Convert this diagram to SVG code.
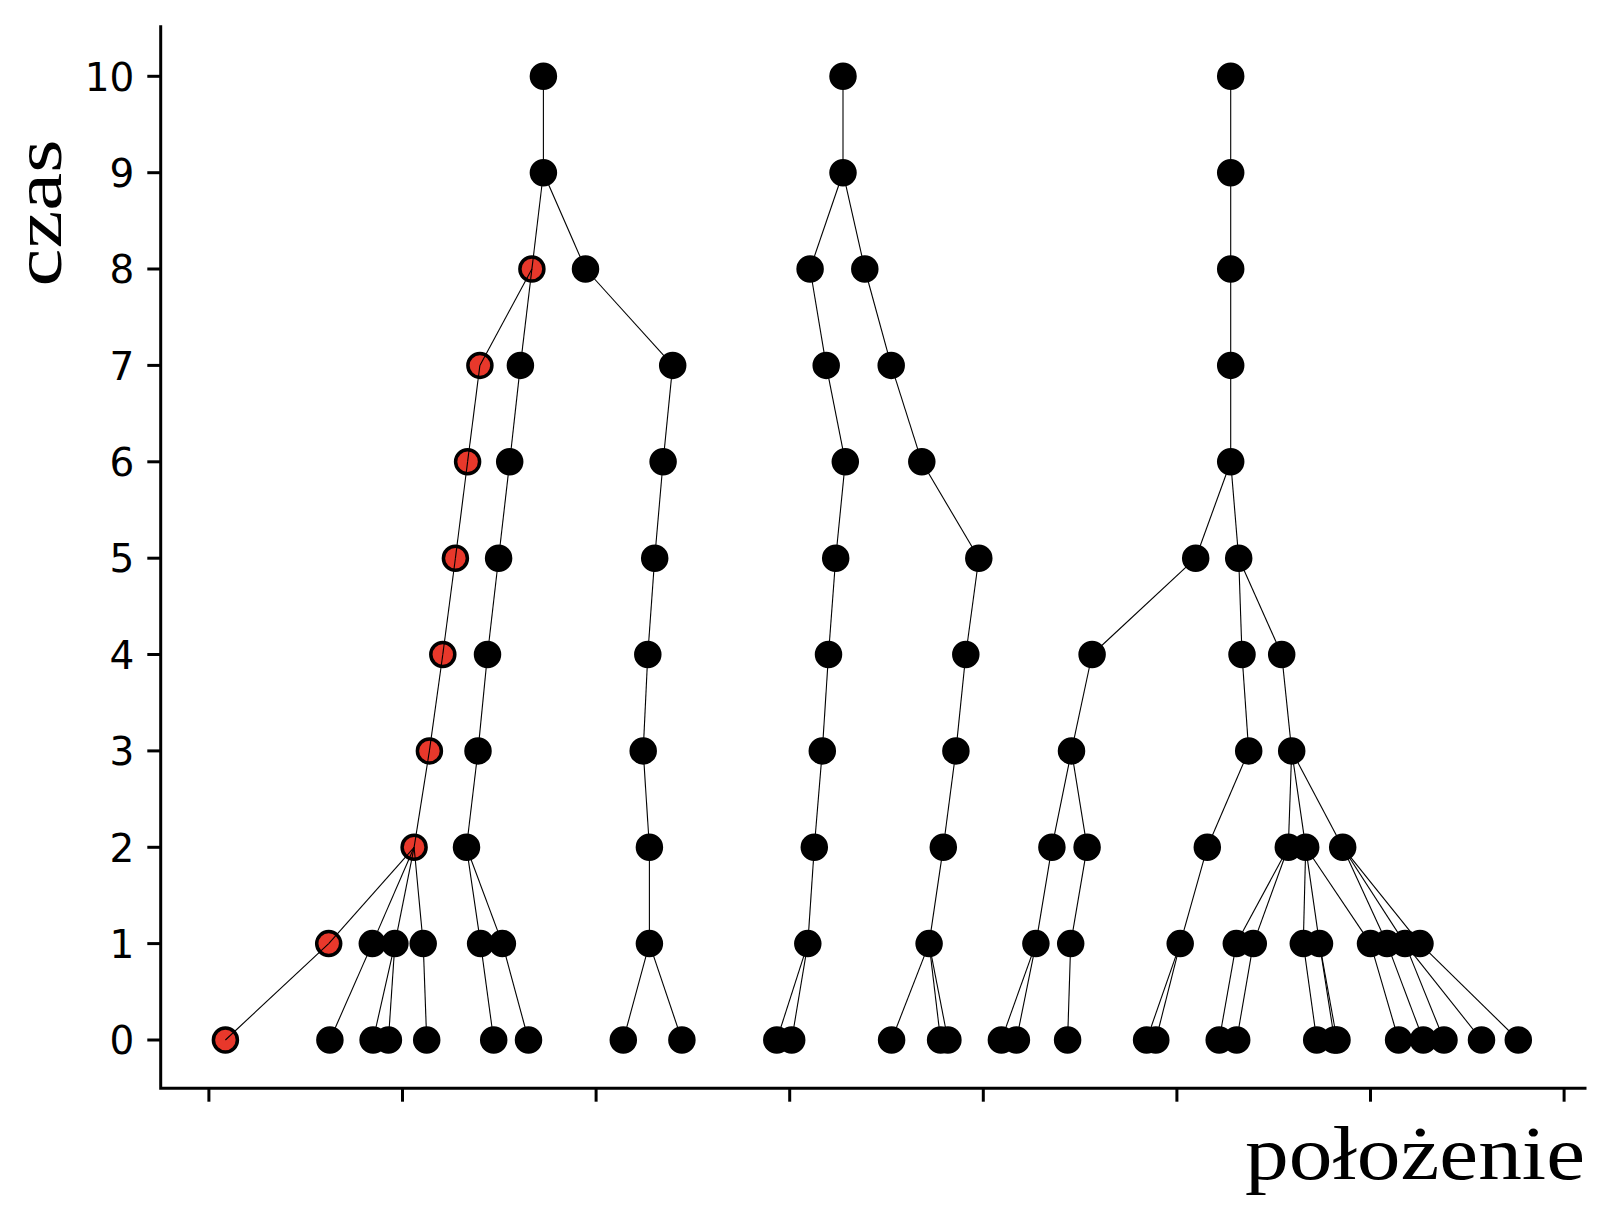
<svg xmlns="http://www.w3.org/2000/svg" width="1606" height="1208" viewBox="0 0 1606 1208">
<style>
.n{fill:#000;stroke:#000;stroke-width:3.5}
.r{fill:#e8382b;stroke:#000;stroke-width:3.5}
.ax{stroke:#000;stroke-width:3;fill:none;stroke-linecap:square}
.tk{stroke:#000;stroke-width:3}
.tl{font-family:"DejaVu Sans",sans-serif;font-size:39px;fill:#000;text-anchor:end}
.lb{font-family:"Liberation Serif","DejaVu Serif",serif;font-size:76px;fill:#000}
#edges line{stroke:#000;stroke-width:1.1}
</style>
<rect width="1606" height="1208" fill="#fff"/>
<g id="axes">
<path class="ax" d="M160.7,26.7 V1088.3 H1585"/>
<g id="yticks">
<line class="tk" x1="147.3" y1="1040" x2="160.7" y2="1040"/>
<line class="tk" x1="147.3" y1="943.6" x2="160.7" y2="943.6"/>
<line class="tk" x1="147.3" y1="847.3" x2="160.7" y2="847.3"/>
<line class="tk" x1="147.3" y1="750.9" x2="160.7" y2="750.9"/>
<line class="tk" x1="147.3" y1="654.5" x2="160.7" y2="654.5"/>
<line class="tk" x1="147.3" y1="558.2" x2="160.7" y2="558.2"/>
<line class="tk" x1="147.3" y1="461.8" x2="160.7" y2="461.8"/>
<line class="tk" x1="147.3" y1="365.4" x2="160.7" y2="365.4"/>
<line class="tk" x1="147.3" y1="269" x2="160.7" y2="269"/>
<line class="tk" x1="147.3" y1="172.7" x2="160.7" y2="172.7"/>
<line class="tk" x1="147.3" y1="76.3" x2="160.7" y2="76.3"/>
<text class="tl" x="134.4" y="1054.2">0</text>
<text class="tl" x="134.4" y="957.8">1</text>
<text class="tl" x="134.4" y="861.5">2</text>
<text class="tl" x="134.4" y="765.1">3</text>
<text class="tl" x="134.4" y="668.7">4</text>
<text class="tl" x="134.4" y="572.4">5</text>
<text class="tl" x="134.4" y="476">6</text>
<text class="tl" x="134.4" y="379.6">7</text>
<text class="tl" x="134.4" y="283.2">8</text>
<text class="tl" x="134.4" y="186.9">9</text>
<text class="tl" x="134.4" y="90.5">10</text>
</g>
<g id="xticks">
<line class="tk" x1="208.9" y1="1088.3" x2="208.9" y2="1101.7"/>
<line class="tk" x1="402.5" y1="1088.3" x2="402.5" y2="1101.7"/>
<line class="tk" x1="596.1" y1="1088.3" x2="596.1" y2="1101.7"/>
<line class="tk" x1="789.7" y1="1088.3" x2="789.7" y2="1101.7"/>
<line class="tk" x1="983.3" y1="1088.3" x2="983.3" y2="1101.7"/>
<line class="tk" x1="1176.9" y1="1088.3" x2="1176.9" y2="1101.7"/>
<line class="tk" x1="1370.5" y1="1088.3" x2="1370.5" y2="1101.7"/>
<line class="tk" x1="1564.1" y1="1088.3" x2="1564.1" y2="1101.7"/>
</g>
<text class="lb" x="1585" y="1179" text-anchor="end" textLength="340" lengthAdjust="spacingAndGlyphs">położenie</text>
<text class="lb" transform="translate(61,213) rotate(-90)" text-anchor="middle" textLength="147" lengthAdjust="spacingAndGlyphs" style="font-size:68px">czas</text>
</g>
<g id="nodes">
<g id="A10"><circle class="n" cx="543.4" cy="76.3" r="12"/></g>
<g id="B10"><circle class="n" cx="843" cy="76.3" r="12"/></g>
<g id="C10"><circle class="n" cx="1230.7" cy="76.3" r="12"/></g>
<g id="A9"><circle class="n" cx="543.4" cy="172.7" r="12"/></g>
<g id="B9"><circle class="n" cx="843" cy="172.7" r="12"/></g>
<g id="C9"><circle class="n" cx="1230.7" cy="172.7" r="12"/></g>
<g id="R8"><circle class="r" cx="531.9" cy="269" r="12"/></g>
<g id="a8"><circle class="n" cx="585.5" cy="269" r="12"/></g>
<g id="b8"><circle class="n" cx="810.1" cy="269" r="12"/></g>
<g id="c8"><circle class="n" cx="864.8" cy="269" r="12"/></g>
<g id="C8"><circle class="n" cx="1230.7" cy="269" r="12"/></g>
<g id="R7"><circle class="r" cx="479.9" cy="365.4" r="12"/></g>
<g id="a7"><circle class="n" cx="520.4" cy="365.4" r="12"/></g>
<g id="b7"><circle class="n" cx="672.7" cy="365.4" r="12"/></g>
<g id="c7"><circle class="n" cx="826.2" cy="365.4" r="12"/></g>
<g id="d7"><circle class="n" cx="891.2" cy="365.4" r="12"/></g>
<g id="C7"><circle class="n" cx="1230.7" cy="365.4" r="12"/></g>
<g id="R6"><circle class="r" cx="467.6" cy="461.8" r="12"/></g>
<g id="a6"><circle class="n" cx="509.7" cy="461.8" r="12"/></g>
<g id="b6"><circle class="n" cx="663.1" cy="461.8" r="12"/></g>
<g id="c6"><circle class="n" cx="845.3" cy="461.8" r="12"/></g>
<g id="d6"><circle class="n" cx="921.8" cy="461.8" r="12"/></g>
<g id="C6"><circle class="n" cx="1230.7" cy="461.8" r="12"/></g>
<g id="R5"><circle class="r" cx="455.4" cy="558.2" r="12"/></g>
<g id="a5"><circle class="n" cx="498.6" cy="558.2" r="12"/></g>
<g id="b5"><circle class="n" cx="654.7" cy="558.2" r="12"/></g>
<g id="c5"><circle class="n" cx="835.7" cy="558.2" r="12"/></g>
<g id="d5"><circle class="n" cx="978.8" cy="558.2" r="12"/></g>
<g id="e5"><circle class="n" cx="1195.7" cy="558.2" r="12"/></g>
<g id="f5"><circle class="n" cx="1238.7" cy="558.2" r="12"/></g>
<g id="R4"><circle class="r" cx="442.8" cy="654.5" r="12"/></g>
<g id="a4"><circle class="n" cx="487.5" cy="654.5" r="12"/></g>
<g id="b4"><circle class="n" cx="647.8" cy="654.5" r="12"/></g>
<g id="c4"><circle class="n" cx="828.5" cy="654.5" r="12"/></g>
<g id="d4"><circle class="n" cx="965.8" cy="654.5" r="12"/></g>
<g id="e4"><circle class="n" cx="1092.1" cy="654.5" r="12"/></g>
<g id="f4"><circle class="n" cx="1242" cy="654.5" r="12"/></g>
<g id="g4"><circle class="n" cx="1281.7" cy="654.5" r="12"/></g>
<g id="R3"><circle class="r" cx="429.4" cy="750.9" r="12"/></g>
<g id="a3"><circle class="n" cx="478" cy="750.9" r="12"/></g>
<g id="b3"><circle class="n" cx="643.2" cy="750.9" r="12"/></g>
<g id="c3"><circle class="n" cx="822.3" cy="750.9" r="12"/></g>
<g id="d3"><circle class="n" cx="955.9" cy="750.9" r="12"/></g>
<g id="e3"><circle class="n" cx="1071.5" cy="750.9" r="12"/></g>
<g id="f3"><circle class="n" cx="1248.7" cy="750.9" r="12"/></g>
<g id="g3"><circle class="n" cx="1291.7" cy="750.9" r="12"/></g>
<g id="R2"><circle class="r" cx="414.1" cy="847.3" r="12"/></g>
<g id="a2"><circle class="n" cx="466.5" cy="847.3" r="12"/></g>
<g id="b2"><circle class="n" cx="649.4" cy="847.3" r="12"/></g>
<g id="c2"><circle class="n" cx="814.3" cy="847.3" r="12"/></g>
<g id="d2"><circle class="n" cx="943.3" cy="847.3" r="12"/></g>
<g id="e2"><circle class="n" cx="1051.9" cy="847.3" r="12"/></g>
<g id="e2b"><circle class="n" cx="1087.1" cy="847.3" r="12"/></g>
<g id="f2"><circle class="n" cx="1207.3" cy="847.3" r="12"/></g>
<g id="g2"><circle class="n" cx="1288.3" cy="847.3" r="12"/></g>
<g id="g2b"><circle class="n" cx="1305.7" cy="847.3" r="12"/></g>
<g id="g2c"><circle class="n" cx="1342.7" cy="847.3" r="12"/></g>
<g id="R1"><circle class="r" cx="328.7" cy="943.6" r="12"/></g>
<g id="k1"><circle class="n" cx="372.3" cy="943.6" r="12"/></g>
<g id="k2"><circle class="n" cx="394.9" cy="943.6" r="12"/></g>
<g id="k3"><circle class="n" cx="423.2" cy="943.6" r="12"/></g>
<g id="a1"><circle class="n" cx="480.6" cy="943.6" r="12"/></g>
<g id="a1b"><circle class="n" cx="502.4" cy="943.6" r="12"/></g>
<g id="b1"><circle class="n" cx="649.4" cy="943.6" r="12"/></g>
<g id="c1"><circle class="n" cx="807.8" cy="943.6" r="12"/></g>
<g id="d1"><circle class="n" cx="929.1" cy="943.6" r="12"/></g>
<g id="e1"><circle class="n" cx="1035.9" cy="943.6" r="12"/></g>
<g id="e1b"><circle class="n" cx="1070.7" cy="943.6" r="12"/></g>
<g id="f1"><circle class="n" cx="1180.2" cy="943.6" r="12"/></g>
<g id="g1"><circle class="n" cx="1236.3" cy="943.6" r="12"/></g>
<g id="g1b"><circle class="n" cx="1253.3" cy="943.6" r="12"/></g>
<g id="h1"><circle class="n" cx="1303.3" cy="943.6" r="12"/></g>
<g id="h1b"><circle class="n" cx="1319.5" cy="943.6" r="12"/></g>
<g id="h1c"><circle class="n" cx="1370.5" cy="943.6" r="12"/></g>
<g id="i1"><circle class="n" cx="1387" cy="943.6" r="12"/></g>
<g id="i1b"><circle class="n" cx="1405" cy="943.6" r="12"/></g>
<g id="i1c"><circle class="n" cx="1420" cy="943.6" r="12"/></g>
<g id="R0"><circle class="r" cx="225.4" cy="1040" r="12"/></g>
<g id="z01"><circle class="n" cx="329.9" cy="1040" r="12"/></g>
<g id="z02"><circle class="n" cx="373.1" cy="1040" r="12"/></g>
<g id="z03"><circle class="n" cx="388.4" cy="1040" r="12"/></g>
<g id="z04"><circle class="n" cx="426.7" cy="1040" r="12"/></g>
<g id="z05"><circle class="n" cx="493.7" cy="1040" r="12"/></g>
<g id="z06"><circle class="n" cx="528.5" cy="1040" r="12"/></g>
<g id="z07"><circle class="n" cx="623.3" cy="1040" r="12"/></g>
<g id="z08"><circle class="n" cx="681.9" cy="1040" r="12"/></g>
<g id="z09"><circle class="n" cx="776.8" cy="1040" r="12"/></g>
<g id="z10"><circle class="n" cx="791.7" cy="1040" r="12"/></g>
<g id="z11"><circle class="n" cx="891.6" cy="1040" r="12"/></g>
<g id="z12"><circle class="n" cx="940.6" cy="1040" r="12"/></g>
<g id="z13"><circle class="n" cx="947.9" cy="1040" r="12"/></g>
<g id="z14"><circle class="n" cx="1001.4" cy="1040" r="12"/></g>
<g id="z15"><circle class="n" cx="1016.4" cy="1040" r="12"/></g>
<g id="z16"><circle class="n" cx="1067.6" cy="1040" r="12"/></g>
<g id="z17"><circle class="n" cx="1146.6" cy="1040" r="12"/></g>
<g id="z18"><circle class="n" cx="1155.8" cy="1040" r="12"/></g>
<g id="z19"><circle class="n" cx="1219.2" cy="1040" r="12"/></g>
<g id="z20"><circle class="n" cx="1236.7" cy="1040" r="12"/></g>
<g id="z21"><circle class="n" cx="1316.7" cy="1040" r="12"/></g>
<g id="z22"><circle class="n" cx="1334.5" cy="1040" r="12"/></g>
<g id="z23"><circle class="n" cx="1337" cy="1040" r="12"/></g>
<g id="z24"><circle class="n" cx="1398.6" cy="1040" r="12"/></g>
<g id="z25"><circle class="n" cx="1423.3" cy="1040" r="12"/></g>
<g id="z26"><circle class="n" cx="1444" cy="1040" r="12"/></g>
<g id="z27"><circle class="n" cx="1481.5" cy="1040" r="12"/></g>
<g id="z28"><circle class="n" cx="1518.3" cy="1040" r="12"/></g>
</g>
<g id="edges">
<line x1="543.4" y1="76.3" x2="543.4" y2="172.7"/>
<line x1="843" y1="76.3" x2="843" y2="172.7"/>
<line x1="1230.7" y1="76.3" x2="1230.7" y2="172.7"/>
<line x1="543.4" y1="172.7" x2="531.9" y2="269"/>
<line x1="543.4" y1="172.7" x2="585.5" y2="269"/>
<line x1="843" y1="172.7" x2="810.1" y2="269"/>
<line x1="843" y1="172.7" x2="864.8" y2="269"/>
<line x1="1230.7" y1="172.7" x2="1230.7" y2="269"/>
<line x1="531.9" y1="269" x2="479.9" y2="365.4"/>
<line x1="531.9" y1="269" x2="520.4" y2="365.4"/>
<line x1="585.5" y1="269" x2="672.7" y2="365.4"/>
<line x1="810.1" y1="269" x2="826.2" y2="365.4"/>
<line x1="864.8" y1="269" x2="891.2" y2="365.4"/>
<line x1="1230.7" y1="269" x2="1230.7" y2="365.4"/>
<line x1="479.9" y1="365.4" x2="467.6" y2="461.8"/>
<line x1="520.4" y1="365.4" x2="509.7" y2="461.8"/>
<line x1="672.7" y1="365.4" x2="663.1" y2="461.8"/>
<line x1="826.2" y1="365.4" x2="845.3" y2="461.8"/>
<line x1="891.2" y1="365.4" x2="921.8" y2="461.8"/>
<line x1="1230.7" y1="365.4" x2="1230.7" y2="461.8"/>
<line x1="467.6" y1="461.8" x2="455.4" y2="558.2"/>
<line x1="509.7" y1="461.8" x2="498.6" y2="558.2"/>
<line x1="663.1" y1="461.8" x2="654.7" y2="558.2"/>
<line x1="845.3" y1="461.8" x2="835.7" y2="558.2"/>
<line x1="921.8" y1="461.8" x2="978.8" y2="558.2"/>
<line x1="1230.7" y1="461.8" x2="1195.7" y2="558.2"/>
<line x1="1230.7" y1="461.8" x2="1238.7" y2="558.2"/>
<line x1="455.4" y1="558.2" x2="442.8" y2="654.5"/>
<line x1="498.6" y1="558.2" x2="487.5" y2="654.5"/>
<line x1="654.7" y1="558.2" x2="647.8" y2="654.5"/>
<line x1="835.7" y1="558.2" x2="828.5" y2="654.5"/>
<line x1="978.8" y1="558.2" x2="965.8" y2="654.5"/>
<line x1="1195.7" y1="558.2" x2="1092.1" y2="654.5"/>
<line x1="1238.7" y1="558.2" x2="1242" y2="654.5"/>
<line x1="1238.7" y1="558.2" x2="1281.7" y2="654.5"/>
<line x1="442.8" y1="654.5" x2="429.4" y2="750.9"/>
<line x1="487.5" y1="654.5" x2="478" y2="750.9"/>
<line x1="647.8" y1="654.5" x2="643.2" y2="750.9"/>
<line x1="828.5" y1="654.5" x2="822.3" y2="750.9"/>
<line x1="965.8" y1="654.5" x2="955.9" y2="750.9"/>
<line x1="1092.1" y1="654.5" x2="1071.5" y2="750.9"/>
<line x1="1242" y1="654.5" x2="1248.7" y2="750.9"/>
<line x1="1281.7" y1="654.5" x2="1291.7" y2="750.9"/>
<line x1="429.4" y1="750.9" x2="414.1" y2="847.3"/>
<line x1="478" y1="750.9" x2="466.5" y2="847.3"/>
<line x1="643.2" y1="750.9" x2="649.4" y2="847.3"/>
<line x1="822.3" y1="750.9" x2="814.3" y2="847.3"/>
<line x1="955.9" y1="750.9" x2="943.3" y2="847.3"/>
<line x1="1071.5" y1="750.9" x2="1051.9" y2="847.3"/>
<line x1="1071.5" y1="750.9" x2="1087.1" y2="847.3"/>
<line x1="1248.7" y1="750.9" x2="1207.3" y2="847.3"/>
<line x1="1291.7" y1="750.9" x2="1288.3" y2="847.3"/>
<line x1="1291.7" y1="750.9" x2="1305.7" y2="847.3"/>
<line x1="1291.7" y1="750.9" x2="1342.7" y2="847.3"/>
<line x1="414.1" y1="847.3" x2="328.7" y2="943.6"/>
<line x1="414.1" y1="847.3" x2="372.3" y2="943.6"/>
<line x1="414.1" y1="847.3" x2="394.9" y2="943.6"/>
<line x1="414.1" y1="847.3" x2="423.2" y2="943.6"/>
<line x1="466.5" y1="847.3" x2="480.6" y2="943.6"/>
<line x1="466.5" y1="847.3" x2="502.4" y2="943.6"/>
<line x1="649.4" y1="847.3" x2="649.4" y2="943.6"/>
<line x1="814.3" y1="847.3" x2="807.8" y2="943.6"/>
<line x1="943.3" y1="847.3" x2="929.1" y2="943.6"/>
<line x1="1051.9" y1="847.3" x2="1035.9" y2="943.6"/>
<line x1="1087.1" y1="847.3" x2="1070.7" y2="943.6"/>
<line x1="1207.3" y1="847.3" x2="1180.2" y2="943.6"/>
<line x1="1288.3" y1="847.3" x2="1236.3" y2="943.6"/>
<line x1="1288.3" y1="847.3" x2="1253.3" y2="943.6"/>
<line x1="1305.7" y1="847.3" x2="1303.3" y2="943.6"/>
<line x1="1305.7" y1="847.3" x2="1319.5" y2="943.6"/>
<line x1="1305.7" y1="847.3" x2="1370.5" y2="943.6"/>
<line x1="1342.7" y1="847.3" x2="1387" y2="943.6"/>
<line x1="1342.7" y1="847.3" x2="1405" y2="943.6"/>
<line x1="1342.7" y1="847.3" x2="1420" y2="943.6"/>
<line x1="328.7" y1="943.6" x2="225.4" y2="1040"/>
<line x1="372.3" y1="943.6" x2="329.9" y2="1040"/>
<line x1="394.9" y1="943.6" x2="373.1" y2="1040"/>
<line x1="394.9" y1="943.6" x2="388.4" y2="1040"/>
<line x1="423.2" y1="943.6" x2="426.7" y2="1040"/>
<line x1="480.6" y1="943.6" x2="493.7" y2="1040"/>
<line x1="502.4" y1="943.6" x2="528.5" y2="1040"/>
<line x1="649.4" y1="943.6" x2="623.3" y2="1040"/>
<line x1="649.4" y1="943.6" x2="681.9" y2="1040"/>
<line x1="807.8" y1="943.6" x2="776.8" y2="1040"/>
<line x1="807.8" y1="943.6" x2="791.7" y2="1040"/>
<line x1="929.1" y1="943.6" x2="891.6" y2="1040"/>
<line x1="929.1" y1="943.6" x2="940.6" y2="1040"/>
<line x1="929.1" y1="943.6" x2="947.9" y2="1040"/>
<line x1="1035.9" y1="943.6" x2="1001.4" y2="1040"/>
<line x1="1035.9" y1="943.6" x2="1016.4" y2="1040"/>
<line x1="1070.7" y1="943.6" x2="1067.6" y2="1040"/>
<line x1="1180.2" y1="943.6" x2="1146.6" y2="1040"/>
<line x1="1180.2" y1="943.6" x2="1155.8" y2="1040"/>
<line x1="1236.3" y1="943.6" x2="1219.2" y2="1040"/>
<line x1="1253.3" y1="943.6" x2="1236.7" y2="1040"/>
<line x1="1303.3" y1="943.6" x2="1316.7" y2="1040"/>
<line x1="1319.5" y1="943.6" x2="1334.5" y2="1040"/>
<line x1="1319.5" y1="943.6" x2="1337" y2="1040"/>
<line x1="1370.5" y1="943.6" x2="1398.6" y2="1040"/>
<line x1="1387" y1="943.6" x2="1423.3" y2="1040"/>
<line x1="1405" y1="943.6" x2="1444" y2="1040"/>
<line x1="1405" y1="943.6" x2="1481.5" y2="1040"/>
<line x1="1420" y1="943.6" x2="1518.3" y2="1040"/>
</g>
</svg>
